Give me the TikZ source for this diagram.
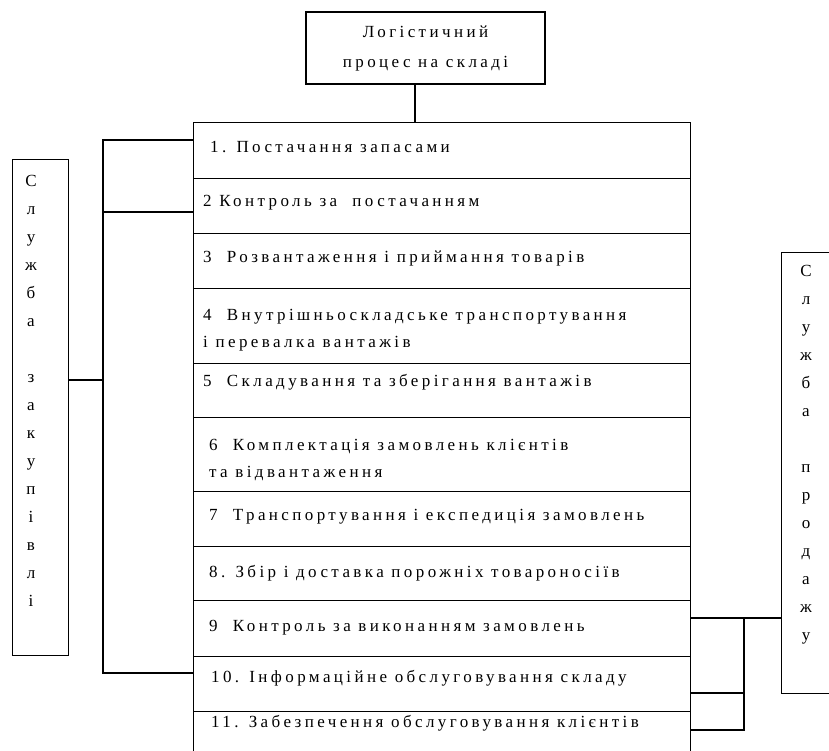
\documentclass[tikz,border=0pt]{standalone}
\usepackage{fontspec}
\setmainfont{Liberation Serif}[LetterSpace=20]
\usetikzlibrary{calc}
\tikzset{
  box/.style={draw, line width=1.1pt, inner sep=0pt},
  rowbox/.style={box, anchor=north west, minimum width=497pt},
  rowtext/.style={anchor=west, inner sep=0pt, align=left, font=\fontsize{17pt}{27pt}\selectfont},
  letters/.style={anchor=north, inner sep=0pt, align=center, font=\fontsize{17pt}{28pt}\selectfont},
  link/.style={line width=1.1pt}
}

\begin{document}
\begin{tikzpicture}[x=1pt,y=-1pt]
  \useasboundingbox (0,0) rectangle (829,751);
  \clip (0,0) rectangle (829,751);

  % Top box
  \node[box, minimum width=239pt, minimum height=72pt, align=center,
        font=\fontsize{17pt}{30pt}\selectfont] (top) at (425.5,48)
        {Логістичний\\процес на складі};

  % Rows of the process
  \node[rowbox, minimum height=56pt] (r1) at (193,122) {};
  \node[rowtext] (t1) at (210,147) {1. Постачання запасами};
  \node[rowbox, minimum height=55pt] (r2) at (193,178) {};
  \node[rowtext] (t2) at (203,203) {2 Контроль за\ \ постачанням};
  \node[rowbox, minimum height=55pt] (r3) at (193,233) {};
  \node[rowtext] (t3) at (203,258) {3\ \ Розвантаження і приймання товарів};
  \node[rowbox, minimum height=75pt] (r4) at (193,288) {};
  \node[rowtext] (t4) at (203,330) {4\ \ Внутрішньоскладське транспортування\\і перевалка вантажів};
  \node[rowbox, minimum height=54pt] (r5) at (193,363) {};
  \node[rowtext] (t5) at (203,382) {5\ \ Складування та зберігання вантажів};
  \node[rowbox, minimum height=74pt] (r6) at (193,417) {};
  \node[rowtext] (t6) at (209,460) {6\ \ Комплектація замовлень клієнтів\\та відвантаження};
  \node[rowbox, minimum height=55pt] (r7) at (193,491) {};
  \node[rowtext] (t7) at (209,517) {7\ \ Транспортування і експедиція замовлень};
  \node[rowbox, minimum height=54pt] (r8) at (193,546) {};
  \node[rowtext] (t8) at (209,573) {8. Збір і доставка порожніх товароносіїв};
  \node[rowbox, minimum height=56pt] (r9) at (193,600) {};
  \node[rowtext] (t9) at (209,628) {9\ \ Контроль за виконанням замовлень};
  \node[rowbox, minimum height=55pt] (r10) at (193,656) {};
  \node[rowtext] (t10) at (211,678) {10. Інформаційне обслуговування складу};
  \node[rowbox, minimum height=60pt] (r11) at (193,711) {};
  \node[rowtext] (t11) at (211,723) {11. Забезпечення обслуговування клієнтів};

  % Purchasing service
  \node[box, anchor=north west, minimum width=56pt, minimum height=496pt] (buy) at (12,159) {};
  \node[letters] (buyltr) at (31,175)
    {С\\л\\у\\ж\\б\\а\\[28pt]з\\а\\к\\у\\п\\і\\в\\л\\і};

  % Sales service
  \node[box, anchor=north west, minimum width=80pt, minimum height=441pt] (sell) at (781,252) {};
  \node[letters] (sellltr) at (806,265)
    {С\\л\\у\\ж\\б\\а\\[28pt]п\\р\\о\\д\\а\\ж\\у};

  % Top box to the list
  \draw[link] ([xshift=-10.5pt]top.south) -- ([xshift=-10.5pt]top.south |- r1.north);

  % Left branches
  \coordinate (lb1) at (103,140);
  \coordinate (lb2) at (103,673);
  \coordinate (lb3) at (103,212);
  \coordinate (lb4) at (103,380);
  \draw[link] (r1.west |- lb1) -- (lb1) -- (lb2) -- (r10.west |- lb2);
  \draw[link] (lb3) -- (r2.west |- lb3);
  \draw[link] (buy.east |- lb4) -- (lb4);

  % Right branches
  \coordinate (rb1) at (744,618);
  \coordinate (rb2) at (744,730);
  \coordinate (rb3) at (744,693);
  \draw[link] (r9.east |- rb1) -- (sell.west |- rb1);
  \draw[link] (rb1) -- (rb2) -- (r11.east |- rb2);
  \draw[link] (r10.east |- rb3) -- (rb3);
\end{tikzpicture}
\end{document}
